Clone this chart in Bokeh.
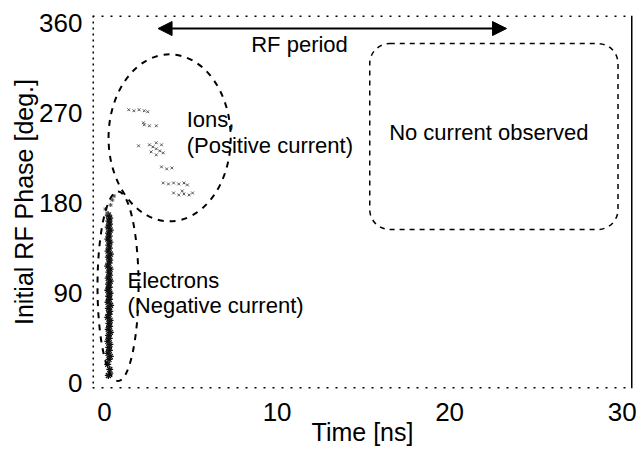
from bokeh.plotting import figure
from bokeh.models import Range1d, Label, Span, Arrow, NormalHead, BoxAnnotation, FixedTicker
from bokeh.embed import file_html
from bokeh.resources import INLINE

FONT = "Liberation Sans"

# ---- data ----
x_ticks = [0, 10, 20, 30]
y_ticks = [0, 90, 180, 270, 360]
x_title = "Time [ns]"
y_title = "Initial RF Phase [deg.]"

# electrons: dense band just after t=0
e_time = [0.22, 0.30, 0.18, 0.26, 0.33, 0.20, 0.28, 0.24, 0.31, 0.19, 0.27, 0.23,
          0.34, 0.21, 0.29, 0.25, 0.32, 0.18, 0.26, 0.30, 0.22, 0.35, 0.20, 0.28,
          0.24, 0.31, 0.19, 0.27, 0.23, 0.33, 0.21, 0.29, 0.25, 0.32, 0.18, 0.26,
          0.30, 0.22, 0.34, 0.20, 0.28, 0.24, 0.31, 0.19, 0.27, 0.23, 0.33, 0.21,
          0.29, 0.25, 0.30, 0.22]
e_phase = [8, 14, 19, 24, 27, 30, 33, 36, 39, 42, 45, 48, 51, 54, 57, 60, 63, 66,
           69, 72, 75, 78, 81, 84, 87, 90, 93, 96, 99, 102, 105, 108, 111, 114, 117,
           120, 123, 126, 129, 132, 135, 138, 141, 144, 147, 150, 153, 156, 159, 162,
           165, 168]
# electrons: a few scattered points near the top of the band
e2_time = [0.05, 0.35, 0.45, 0.15, 0.55, 0.40]
e2_phase = [174, 178, 183, 170, 187, 10]

# ions: scattered clusters
i_time = [1.4, 1.7, 2.0, 2.3, 2.5,
          2.3, 2.6, 3.0, 2.25,
          2.6, 2.8, 3.0, 3.2, 3.4, 2.7, 3.3, 3.0, 3.0, 1.97,
          3.3, 3.6, 3.9,
          3.4, 3.7, 4.0, 4.3, 4.6, 4.8,
          4.0, 4.3, 4.6, 4.9, 5.1, 4.5]
i_phase = [273, 272, 273, 272, 271,
           258, 257, 257, 260,
           238, 236, 234, 232, 230, 231, 238, 228, 240, 237,
           216, 214, 215,
           200, 199, 200, 199, 200, 198,
           190, 188, 189, 188, 190, 192]

X0, X1, Y0, Y1 = -0.7, 30.6, -5, 367

p = figure(width=643, height=454,
           x_range=Range1d(X0, X1), y_range=Range1d(Y0, Y1),
           output_backend="svg", toolbar_location=None,
           min_border_left=92, min_border_right=11, min_border_top=15, min_border_bottom=66)

p.background_fill_color = "white"
p.border_fill_color = "white"
p.grid.visible = False
p.outline_line_color = None

for ax in (p.xaxis[0], p.yaxis[0]):
    ax.axis_line_color = None
    ax.major_tick_line_color = None
    ax.minor_tick_line_color = None
    ax.major_tick_out = 0
    ax.major_tick_in = 0
    ax.minor_tick_out = 0
    ax.major_label_text_font = FONT
    ax.major_label_text_font_size = "26px"
    ax.major_label_text_color = "black"
    ax.axis_label_text_font = FONT
    ax.axis_label_text_font_size = "25px"
    ax.axis_label_text_font_style = "normal"
    ax.axis_label_text_color = "black"

p.xaxis.ticker = FixedTicker(ticks=x_ticks)
p.yaxis.ticker = FixedTicker(ticks=y_ticks)
p.xaxis.axis_label = x_title
p.yaxis.axis_label = y_title
p.xaxis.major_label_standoff = 14
p.xaxis.axis_label_standoff = -6
p.yaxis.major_label_standoff = 10
p.yaxis.axis_label_standoff = -2

# frame: dotted top/bottom/left, solid right
p.add_layout(Span(location=Y1, dimension="width", line_color="black", line_width=3, line_dash="2 7"))
p.add_layout(Span(location=Y0, dimension="width", line_color="black", line_width=3, line_dash="2 7"))
p.add_layout(Span(location=X0, dimension="height", line_color="black", line_width=3, line_dash="2 4"))
p.add_layout(Span(location=X1, dimension="height", line_color="black", line_width=3))

# data points
p.scatter(e_time, e_phase, marker="asterisk", size=7, line_color="#111111", line_width=1.3)
p.scatter(e2_time, e2_phase, marker="asterisk", size=4, line_color="#555555", line_width=1)
p.scatter(i_time, i_phase, marker="x", size=4, line_color="#555555", line_width=1)

# dashed regions
p.ellipse(x=[3.77], y=[245], width=[7.08], height=[166.5], fill_color=None,
          line_color="black", line_dash="6 6", line_width=2)
p.ellipse(x=[0.78], y=[97], width=[2.38], height=[189], fill_color=None,
          line_color="black", line_dash="6 6", line_width=2)
p.add_layout(BoxAnnotation(left=15.37, right=29.76, bottom=153.6, top=339,
                           fill_color=None, fill_alpha=0, line_color="black", line_alpha=1,
                           line_dash="5 5", line_width=1.5, border_radius=20))

# RF period arrow
p.add_layout(Arrow(x_start=3.1, y_start=354, x_end=23.3, y_end=354, line_width=2,
                   start=NormalHead(size=14, fill_color="black", line_color="black"),
                   end=NormalHead(size=14, fill_color="black", line_color="black")))

def lab(x, y, t, align="left"):
    p.add_layout(Label(x=x, y=y, text=t, text_font=FONT, text_font_size="22px",
                       text_color="black", text_align=align, text_baseline="middle"))

lab(11.3, 338, "RF period", "center")
lab(22.27, 250, "No current observed", "center")
lab(4.76, 263, "Ions,")
lab(4.76, 237, "(Positive current)")
lab(1.33, 103, "Electrons")
lab(1.33, 78, "(Negative current)")

open("out.html", "w").write(file_html(p, INLINE))
